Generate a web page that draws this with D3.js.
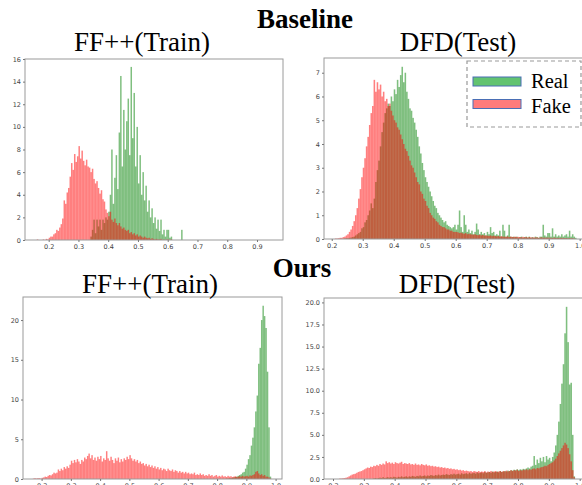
<!DOCTYPE html>
<html>
<head>
<meta charset="utf-8">
<script src="https://cdn.jsdelivr.net/npm/d3@7"></script>
<style>
  body { margin: 0; background: #fff; }
  svg { display: block; }
  .tick text { font-family: "DejaVu Sans", sans-serif; font-size: 6.5px; fill: #444; }
</style>
</head>
<body>
<div id="chart"></div>
<script>
// histogram bin width (score units)
var binW = 0.005;

// ---- Baseline / FF++(Train) ----
var baseFFFakeStart = 0.16;
var baseFFFake = [0.05,0,0,0,0.05,0,0.1,0.05,0.2,0.3,0.3,0.5,0.6,0.9,0.8,1.1,1.4,1.9,3.5,3.2,
  4.2,4.6,5.6,6.8,6.2,7.6,6.9,7.4,8.3,7.2,7.9,7.0,6.6,7.1,6.5,6.4,6.0,6.3,5.4,5.0,
  5.2,4.6,4.1,4.4,3.6,3.4,2.7,2.4,2.1,2.5,1.8,1.6,1.9,1.5,1.3,1.5,1.2,1.0,1.1,0.9,
  0.8,0.9,0.6,0.7,0.5,0.6,0.4,0.5,0.3,0.4,0.3,0.2,0.3,0.2,0.15,0.2,0.1,0.15,0.1,0.05,
  0.1,0.05,0.05,0.1,0,0.05,0,0.05,0.05,0,0.05];
var baseFFRealStart = 0.34;
var baseFFReal = [0.3,0.9,1.8,0.6,1.8,1.2,1.8,0.9,1.8,1.5,2.0,1.8,2.5,4.0,8.0,3.2,5.5,7.5,4.5,9.5,
  14.5,6.5,11.5,8.0,10.5,12.5,7.5,15.3,9.0,13.0,6.5,10.0,5.0,7.5,4.0,6.0,3.5,4.8,2.5,3.5,
  2.0,2.8,1.5,2.0,1.0,1.8,0.8,1.8,0.5,0.9,0.3,0.9,0.9,0.2,0.3,0,0,0,0,0,0,0.9];

// ---- Baseline / DFD(Test) ----
var baseDFDFakeStart = 0.21;
var baseDFDFake = [0.02,0.02,0.03,0.05,0.05,0.08,0.1,0.15,0.2,0.3,0.4,0.55,0.75,1.0,1.3,1.7,2.1,2.6,3.0,3.4,
  3.9,4.3,4.8,5.3,5.6,6.7,6.2,6.6,6.3,6.5,6.0,6.2,5.8,5.9,5.6,5.7,5.4,5.2,5.0,4.9,
  4.7,4.6,4.4,4.2,4.0,3.8,3.7,3.5,3.3,3.1,3.0,2.8,2.6,2.4,2.3,2.0,1.9,1.7,1.6,1.4,
  1.3,1.1,1.0,0.9,0.85,0.75,0.7,0.6,0.55,0.5,0.5,0.45,0.4,0.4,0.35,0.35,0.3,0.3,0.3,
  0.28,0.25,0.27,0.24,0.22,0.25,0.2,0.22,0.2,0.19,
  0.18,0.2,0.17,0.16,0.18,0.15,0.17,0.14,0.15,0.14,
  0.13,0.15,0.12,0.14,0.12,0.11,0.13,0.1,0.12,0.1,
  0.1,0.09,0.11,0.08,0.1,0.09,0.08,0.1,0.08,0.09,
  0.08,0.07,0.09,0.07,0.08,0.06,0.08,0.07,0.06,0.07,
  0.06,0.07,0.05,0.06,0.07,0.05,0.06,0.05,0.06,0.05,
  0.05,0.04,0.06,0.05,0.04,0.05,0.04,0.05,0.04,0.04,
  0.04,0.03,0.04,0.03,0.03,0.02];
var baseDFDRealStart = 0.24;
var baseDFDReal = [0.02,0.03,0.03,0.05,0.06,0.08,0.1,0.15,0.2,0.25,0.3,0.45,0.5,0.7,0.8,1.0,1.2,1.5,1.3,1.7,
  2.4,2.9,3.3,3.9,4.5,4.9,5.3,5.5,5.7,5.6,6.0,5.8,6.3,6.1,6.7,6.4,6.9,7.25,6.6,7.0,
  6.2,5.9,5.5,5.4,5.1,4.9,4.6,4.3,3.9,3.6,3.2,2.9,2.6,2.4,2.2,2.0,1.8,1.6,1.4,1.3,
  1.1,1.0,0.9,0.8,0.7,0.75,0.6,0.55,0.5,0.45,0.5,0.6,0.4,0.6,1.2,0.5,0.3,1.0,0.6,0.3,
  0.4,0.25,0.35,0.2,0.3,0.65,0.4,0.2,0.3,0.2,0.25,0.15,0.3,0.2,0.5,0.25,0.3,0.15,0.2,0.15,
  0.35,0.1,0.6,0.35,0.1,0.15,0.6,0.1,0.08,0.1,0.08,0.1,0.05,0.08,0.1,0.05,0.08,0.1,0.06,0.1,
  0.05,0.08,0.05,0.1,0.08,0.05,0.1,0.1,0.6,0.15,0.1,0.25,0.25,0.1,0.45,0.1,0.2,0.1,0.15,0.1,
  0.2,0.1,0.15,0.2,0.1,0.35,0.1,0.2,0.1,0.05];

// ---- Ours / FF++(Train) ----
var oursFFFakeStart = 0.17;
var oursFFFake = [0.05,0.1,0.05,0.1,0.1,0.05,0.15,0.2,0.3,0.25,0.4,0.5,0.45,0.6,0.8,0.7,0.8,1.2,1.0,1.3,
  1.1,1.5,1.3,1.6,1.4,1.8,2.3,2.0,2.4,2.1,2.5,2.2,1.9,2.4,2.2,2.7,2.5,2.9,3.2,2.6,
  3.0,2.4,2.7,2.3,2.8,2.5,2.9,2.2,2.6,2.4,3.5,2.6,2.3,2.8,2.4,2.0,2.6,2.3,2.7,2.1,
  2.5,2.2,2.6,2.4,2.8,2.5,3.0,2.6,2.3,2.5,2.2,2.4,2.0,2.2,1.9,2.0,1.7,1.9,1.6,1.8,
  1.5,1.7,1.4,1.6,1.3,1.5,1.2,1.4,1.1,1.3,1.2,1.0,1.3,1.1,1.0,1.2,0.9,1.1,1.0,0.8,
  1.0,0.8,0.9,0.7,0.9,0.7,0.8,0.6,0.7,0.6,0.8,0.5,0.6,0.5,0.7,0.5,0.6,0.4,0.5,0.4,
  0.6,0.4,0.5,0.3,0.4,0.5,0.3,0.4,0.3,0.45,0.3,0.35,0.25,0.4,0.3,0.35,0.25,0.3,0.35,0.25,
  0.3,0.35,0.3,0.4,0.3,0.35,0.4,0.3,0.45,0.4,0.5,0.6,0.9,1.0,0.7,0.5,0.6,0.4,0.5,0.3,
  0.3,0.2,0.05];
var oursFFRealStart = 0.83;
var oursFFReal = [0.05,0.05,0.1,0.1,0.15,0.2,0.25,0.3,0.4,0.5,0.6,0.8,0.9,1.3,1.8,2.5,3.0,4.2,5.2,6.5,
  8.5,10.5,14.5,16.5,20.0,21.8,20.5,19.0,13.5,6.5,0.3];

// ---- Ours / DFD(Test) ----
var oursDFDFakeStart = 0.22;
var oursDFDFake = [0.05,0.05,0.08,0.1,0.15,0.2,0.3,0.4,0.5,0.55,0.6,0.7,0.8,0.85,0.9,1.0,1.1,1.2,1.3,1.25,
  1.4,1.35,1.5,1.45,1.6,1.5,1.7,1.6,1.75,1.65,2.0,1.8,1.9,1.75,1.85,1.7,1.9,1.8,1.75,1.85,
  1.95,1.7,1.8,1.75,1.7,1.8,1.65,1.7,1.6,1.75,1.6,1.65,1.55,1.7,1.6,1.55,1.65,1.5,1.55,1.45,
  1.5,1.4,1.45,1.35,1.4,1.3,1.35,1.25,1.3,1.2,1.25,1.15,1.2,1.1,1.15,1.05,1.1,1.0,1.05,0.95,
  1.0,0.9,0.95,0.9,0.85,0.9,0.8,0.9,0.85,0.8,0.9,0.8,0.85,0.8,0.9,0.75,0.85,0.8,0.9,0.8,
  0.85,0.9,0.8,0.85,0.9,0.8,0.9,0.85,0.95,0.85,0.9,1.0,0.9,1.0,0.95,1.05,0.9,1.0,0.95,1.05,
  1.0,1.1,1.0,1.1,1.05,1.15,1.2,1.1,1.25,1.2,1.3,1.35,1.4,1.5,1.45,1.6,1.7,1.8,1.9,2.1,
  2.3,2.6,2.9,3.2,3.5,3.8,4.1,3.9,3.5,2.8,2.0,1.0,0.2];
var oursDFDRealStart = 0.33;
var oursDFDReal = [0.05,0.1,0.05,0.1,0.15,0.1,0.2,0.1,0.15,0.2,0.15,0.2,0.15,0.25,0.2,0.15,0.25,0.2,0.3,0.2,
  0.25,0.3,0.2,0.3,0.25,0.35,0.3,0.25,0.35,0.3,0.4,0.3,0.35,0.4,0.3,0.4,0.35,0.45,0.4,0.35,
  0.45,0.4,0.5,0.4,0.45,0.5,0.45,0.55,0.5,0.45,0.55,0.5,0.6,0.5,0.55,0.6,0.5,0.65,0.55,0.6,
  0.65,0.55,0.7,0.6,0.65,0.7,0.6,0.75,0.65,0.7,0.75,0.65,0.8,0.7,0.75,0.8,0.7,0.85,0.75,0.8,
  0.85,0.75,0.9,0.8,0.85,0.9,0.85,0.95,0.9,1.0,0.95,1.05,1.0,1.1,1.0,1.1,1.05,1.15,1.1,1.2,
  1.3,1.2,1.4,1.5,2.6,1.6,2.2,1.8,2.4,2.0,2.5,1.9,2.6,2.2,2.4,2.0,2.5,3.0,3.8,5.0,
  6.5,8.5,10.8,13.0,16.5,19.5,15.5,10.7,10.9,5.0,0.3];

// tick values
var xTicksTopLeft = [0.2,0.3,0.4,0.5,0.6,0.7,0.8,0.9];
var xTicksFull = [0.2,0.3,0.4,0.5,0.6,0.7,0.8,0.9,1.0];
var yTicksP1 = [0,2,4,6,8,10,12,14,16];
var yTicksP2 = [0,1,2,3,4,5,6,7];
var yTicksP3 = [0,5,10,15,20];
var yTicksP4 = [0,2.5,5,7.5,10,12.5,15,17.5,20];

var legendLabels = ["Real", "Fake"];

var realColor = "rgb(0,128,0)";
var fakeColor = "rgb(255,0,0)";

var width = 582, height = 485;

var svg = d3.select("#chart").append("svg")
  .attr("width", width)
  .attr("height", height);

//-- one histogram panel --//
function drawPanel(p) {
  var x = d3.scaleLinear().domain(p.xDomain).range([p.left, p.right]);
  var y = d3.scaleLinear().domain(p.yDomain).range([p.bottom, p.top]);

  var g = svg.append("g");

  // clip so nothing spills past the frame
  var clipId = "clip" + p.id;
  g.append("clipPath").attr("id", clipId)
    .append("rect")
    .attr("x", p.left).attr("y", p.top)
    .attr("width", p.right - p.left).attr("height", p.bottom - p.top);

  var plot = g.append("g").attr("clip-path", "url(#" + clipId + ")");

  function bars(values, start, color) {
    var bins = values.map(function(v, i) {
      return { x0: start + i * binW, x1: start + (i + 1) * binW, v: v };
    }).filter(function(d) { return d.v > 0; });

    plot.append("g").selectAll("rect")
      .data(bins).enter()
      .append("rect")
      .attr("x", function(d) { return x(d.x0); })
      .attr("width", function(d) { return x(d.x1) - x(d.x0); })
      .attr("y", function(d) { return y(d.v); })
      .attr("height", function(d) { return y(0) - y(d.v); })
      .attr("fill", color)
      .attr("fill-opacity", 0.5);
  }

  // real drawn first, fake on top (gives the brown overlap)
  bars(p.real, p.realStart, realColor);
  bars(p.fake, p.fakeStart, fakeColor);

  // frame
  g.append("rect")
    .attr("x", p.left).attr("y", p.top)
    .attr("width", p.right - p.left).attr("height", p.bottom - p.top)
    .attr("fill", "none")
    .attr("stroke", "#9a9a9a")
    .attr("stroke-width", 1);

  var xAxis = d3.axisBottom(x)
    .tickValues(p.xTicks)
    .tickFormat(d3.format(".1f"))
    .tickSize(2)
    .tickPadding(2);
  var yAxis = d3.axisLeft(y)
    .tickValues(p.yTicks)
    .tickFormat(p.yFormat)
    .tickSize(2)
    .tickPadding(2);

  var gx = g.append("g")
    .attr("transform", "translate(0," + p.bottom + ")")
    .call(xAxis);
  var gy = g.append("g")
    .attr("transform", "translate(" + p.left + ",0)")
    .call(yAxis);
  [gx, gy].forEach(function(a) {
    a.select(".domain").remove();
    a.selectAll(".tick line").attr("stroke", "#777");
  });

  // panel title
  svg.append("text")
    .attr("x", p.titleX)
    .attr("y", p.titleY)
    .attr("text-anchor", "middle")
    .attr("font-family", "'Liberation Serif', 'Times New Roman', serif")
    .attr("font-size", 27)
    .attr("fill", "#000")
    .text(p.title);
}

var panels = [
  { id: 1, title: "FF++(Train)", titleX: 142, titleY: 51,
    left: 25, right: 283, top: 59, bottom: 240,
    xDomain: [0.1204, 0.9874], yDomain: [0, 16],
    xTicks: xTicksTopLeft, yTicks: yTicksP1, yFormat: d3.format("d"),
    fake: baseFFFake, fakeStart: baseFFFakeStart, real: baseFFReal, realStart: baseFFRealStart },
  { id: 2, title: "DFD(Test)", titleX: 458, titleY: 51,
    left: 324, right: 584, top: 58, bottom: 239,
    xDomain: [0.175, 1.014], yDomain: [0, 7.62],
    xTicks: xTicksFull, yTicks: yTicksP2, yFormat: d3.format("d"),
    fake: baseDFDFake, fakeStart: baseDFDFakeStart, real: baseDFDReal, realStart: baseDFDRealStart },
  { id: 3, title: "FF++(Train)", titleX: 150, titleY: 293,
    left: 23, right: 282, top: 297, bottom: 479,
    xDomain: [0.1364, 1.0219], yDomain: [0, 22.9],
    xTicks: xTicksFull, yTicks: yTicksP3, yFormat: d3.format("d"),
    fake: oursFFFake, fakeStart: oursFFFakeStart, real: oursFFReal, realStart: oursFFRealStart },
  { id: 4, title: "DFD(Test)", titleX: 457, titleY: 293,
    left: 324, right: 584, top: 298, bottom: 479,
    xDomain: [0.1708, 1.014], yDomain: [0, 20.5],
    xTicks: xTicksFull, yTicks: yTicksP4, yFormat: d3.format(".1f"),
    fake: oursDFDFake, fakeStart: oursDFDFakeStart, real: oursDFDReal, realStart: oursDFDRealStart }
];

panels.forEach(drawPanel);

// section headings
svg.append("text")
  .attr("x", 305).attr("y", 28)
  .attr("text-anchor", "middle")
  .attr("font-family", "'Liberation Serif', 'Times New Roman', serif")
  .attr("font-weight", "bold")
  .attr("font-size", 27)
  .text("Baseline");
svg.append("text")
  .attr("x", 302).attr("y", 277)
  .attr("text-anchor", "middle")
  .attr("font-family", "'Liberation Serif', 'Times New Roman', serif")
  .attr("font-weight", "bold")
  .attr("font-size", 27)
  .text("Ours");

// legend
var legend = svg.append("g");
legend.append("rect")
  .attr("x", 467).attr("y", 61)
  .attr("width", 114).attr("height", 66)
  .attr("fill", "#fff")
  .attr("stroke", "#999")
  .attr("stroke-width", 1.2)
  .attr("stroke-dasharray", "4,3");

var legendColors = ["#62c370", "#ff7b7b"];
legendLabels.forEach(function(lab, i) {
  legend.append("rect")
    .attr("x", 473).attr("y", 77 + i * 22.5)
    .attr("width", 48).attr("height", 9)
    .attr("fill", legendColors[i])
    .attr("stroke", "#4a6fb5")
    .attr("stroke-width", 1);
  legend.append("text")
    .attr("x", 531).attr("y", 88 + i * 24.5)
    .attr("font-family", "'Liberation Serif', 'Times New Roman', serif")
    .attr("font-size", 20.5)
    .attr("fill", "#000")
    .text(lab);
});
</script>
</body>
</html>
